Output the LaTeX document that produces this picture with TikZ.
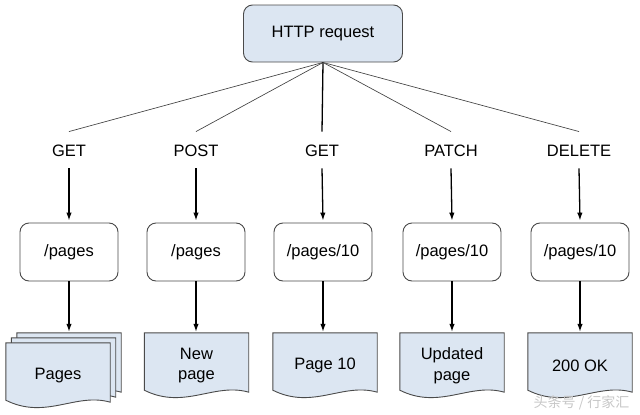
\documentclass[tikz,border=0pt]{standalone}
\usepackage{fontspec}
\setmainfont{Liberation Sans}
\newfontfamily\cjkfont{Noto Sans CJK SC}
\usetikzlibrary{arrows.meta,backgrounds}
\definecolor{docblue}{HTML}{DCE6F2}
\definecolor{edge}{HTML}{4A4A4A}
\tikzset{
  reqbox/.style={draw=edge, line width=0.9pt, fill=docblue, rounded corners=9pt,
    minimum width=159pt, minimum height=57pt, inner sep=0pt, font=\fontsize{16.5}{19}\selectfont},
  method/.style={inner xsep=0pt, inner ysep=12pt, text height=12.5pt, text depth=0pt,
    font=\fontsize{16.5}{19}\selectfont},
  urlbox/.style={draw=edge, line width=0.9pt, rounded corners=9pt,
    minimum width=98pt, minimum height=58pt, inner sep=0pt, font=\fontsize{16.5}{19}\selectfont},
  docnode/.style={minimum width=104pt, minimum height=57pt, inner sep=0pt, align=center,
    font=\fontsize{16.5}{20.5}\selectfont},
  docsty/.style={draw=edge, line width=0.9pt, fill=docblue},
  fan/.style={draw=black!75, line width=0.65pt},
  vline/.style={draw=black, line width=1.3pt},
  arr/.style={vline, -{Latex[length=8pt,width=5.5pt]}}
}
% doc shape drawn 4pt above its text node, so the text sits a little low
\newcommand{\docshape}[3]{%
  \filldraw[docsty] ([xshift=#2,yshift=#3+4pt]#1.north west) -- ([xshift=#2,yshift=#3+4pt]#1.north east)
    -- ([xshift=#2,yshift=#3+2pt]#1.south east)
    .. controls ([xshift=#2+70pt,yshift=#3+12pt]#1.south west) and ([xshift=#2+40pt,yshift=#3-16pt]#1.south west)
    .. ([xshift=#2,yshift=#3+4pt]#1.south west) -- cycle;}
\begin{document}
\begin{tikzpicture}[x=1pt,y=-1pt]
\useasboundingbox (0,0) rectangle (640,415);
\node[reqbox] (req) at (323,33.5) {HTTP request};

\node[method] (m1) at (69,150) {GET};
\node[method] (m2) at (196,150) {POST};
\node[method] (m3) at (322,150) {GET};
\node[method] (m4) at (451,150) {PATCH};
\node[method] (m5) at (579,150) {DELETE};

\node[urlbox] (u1) at (69,252) {/pages};
\node[urlbox] (u2) at (196,252) {/pages};
\node[urlbox] (u3) at (323,252) {/pages/10};
\node[urlbox] (u4) at (452,252) {/pages/10};
\node[urlbox] (u5) at (580,252) {/pages/10};

\node[docnode] (d1) at (58,375.5) {Pages};
\node[docnode] (d2) at (196.5,365.5) {New\\page};
\node[docnode] (d3) at (325,365.5) {Page 10};
\node[docnode] (d4) at (452,365.5) {Updated\\page};
\node[docnode] (d5) at (580,365.5) {200 OK};
\coordinate (d1top) at ([xshift=11pt,yshift=15pt]d1.north);
\foreach \i in {2,...,5} {\coordinate (t\i) at ([yshift=5pt]d\i.north);}

\begin{scope}[on background layer]
  \docshape{d1}{11pt}{10pt}
  \docshape{d1}{5.5pt}{5pt}
  \docshape{d1}{0pt}{0pt}
  \docshape{d2}{0pt}{0pt}
  \docshape{d3}{0pt}{0pt}
  \docshape{d4}{0pt}{0pt}
  \docshape{d5}{0pt}{0pt}
\end{scope}

\draw[fan] (req.south) -- (m1.north);
\draw[fan] (req.south) -- (m2.north);
\draw[vline] (req.south) -- (m3.north);
\draw[fan] (req.south) -- (m4.north);
\draw[fan] (req.south) -- (m5.north);

\foreach \i in {1,...,5} {
  \draw[arr] (m\i.south) -- ([yshift=2pt]u\i.north);
}
\draw[arr] (u1.south) -- (u1.south |- d1top);
\foreach \i in {2,...,5} {
  \draw[arr] (u\i.south) -- (u\i.south |- t\i);
}

\node[text=black!22, font=\cjkfont\fontsize{14}{16}\selectfont, anchor=east] (wm) at (633,403) {头条号 / 行家汇};
\end{tikzpicture}
\end{document}
